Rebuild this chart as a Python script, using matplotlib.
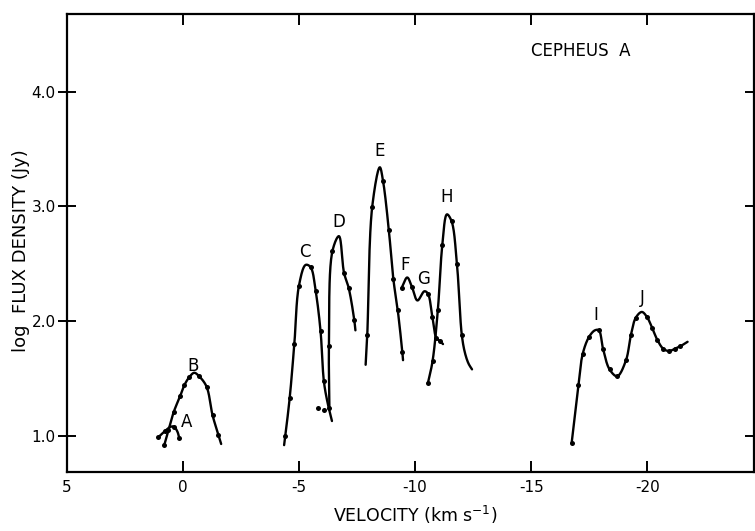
import numpy as np
import matplotlib
matplotlib.use("Agg")
import matplotlib.pyplot as plt

plt.rcParams['font.family'] = ['DejaVu Sans']
plt.rcParams['axes.unicode_minus'] = False
plt.rcParams['mathtext.fontset'] = 'dejavusans'

# ---- data (velocity km/s, log flux density Jy) ----
a_v = [1.05, 0.78, 0.52, 0.38, 0.24, 0.15]
a_s = [0.99, 1.04, 1.08, 1.08, 1.04, 0.98]
a_dot = [1, 1, 0, 1, 0, 1]

b_v = [0.80, 0.62, 0.39, 0.11, -0.06, -0.27, -0.49, -0.70, -1.02, -1.28, -1.53, -1.65]
b_s = [0.92, 1.05, 1.21, 1.35, 1.44, 1.51, 1.55, 1.52, 1.43, 1.18, 1.01, 0.93]
b_dot = [1, 1, 1, 1, 1, 1, 0, 1, 1, 1, 1, 0]

c_v = [-4.36, -4.41, -4.60, -4.80, -5.00, -5.29, -5.50, -5.72, -5.93, -6.07, -6.22, -6.42]
c_s = [0.92, 1.00, 1.33, 1.80, 2.31, 2.49, 2.47, 2.26, 1.91, 1.48, 1.30, 1.13]
c_dot = [0, 1, 1, 1, 1, 0, 1, 1, 1, 1, 0, 0]

iso_v = [-5.84, -6.07]
iso_s = [1.24, 1.23]

d_v = [-6.31, -6.29, -6.44, -6.72, -6.94, -7.14, -7.38, -7.43]
d_s = [1.24, 1.78, 2.61, 2.74, 2.42, 2.29, 2.01, 1.92]
d_dot = [1, 1, 1, 0, 1, 1, 1, 0]

e_v = [-7.87, -7.94, -8.15, -8.48, -8.62, -8.87, -9.06, -9.25, -9.45, -9.48]
e_s = [1.62, 1.88, 2.99, 3.34, 3.22, 2.79, 2.37, 2.10, 1.73, 1.66]
e_dot = [0, 1, 1, 0, 1, 1, 1, 1, 1, 0]

fg_v = [-9.42, -9.66, -9.86, -10.10, -10.40, -10.55, -10.74, -10.92, -11.05, -11.20]
fg_s = [2.29, 2.38, 2.30, 2.18, 2.26, 2.24, 2.04, 1.85, 1.83, 1.80]
fg_dot = [1, 0, 1, 0, 0, 1, 1, 1, 1, 0]

h_v = [-10.55, -10.75, -10.98, -11.17, -11.37, -11.57, -11.80, -12.01, -12.15, -12.30, -12.45]
h_s = [1.46, 1.65, 2.10, 2.66, 2.93, 2.87, 2.50, 1.88, 1.72, 1.63, 1.58]
h_dot = [1, 1, 1, 1, 0, 1, 1, 1, 0, 0, 0]

ij_v = [-16.74, -17.03, -17.21, -17.48, -17.74, -17.91, -18.09, -18.37, -18.70, -19.08,
        -19.29, -19.50, -19.76, -19.97, -20.21, -20.42, -20.68, -20.92, -21.20, -21.41, -21.73]
ij_s = [0.94, 1.44, 1.71, 1.86, 1.92, 1.92, 1.76, 1.58, 1.52, 1.66,
        1.88, 2.03, 2.08, 2.04, 1.94, 1.84, 1.76, 1.74, 1.76, 1.78, 1.82]
ij_dot = [1, 1, 1, 1, 0, 1, 1, 1, 1, 1, 1, 1, 0, 1, 1, 1, 1, 1, 1, 1, 0]

labels = ['A', 'B', 'C', 'D', 'E', 'F', 'G', 'H', 'I', 'J']
label_v = [-0.14, -0.46, -5.27, -6.72, -8.47, -9.57, -10.35, -11.36, -17.78, -19.78]
label_s = [1.12, 1.61, 2.60, 2.86, 3.48, 2.49, 2.37, 3.08, 2.05, 2.20]

xticks = [5, 0, -5, -10, -15, -20]
yticks = [1.0, 2.0, 3.0, 4.0]


def smooth(v, s, n=24):
    """Centripetal Catmull-Rom curve through the given points (drawing only)."""
    P = np.column_stack([np.asarray(v, float) * 23.3, np.asarray(s, float) * 114.7])
    P = np.vstack([2 * P[0] - P[1], P, 2 * P[-1] - P[-2]])
    out = []
    for i in range(1, len(P) - 2):
        p0, p1, p2, p3 = P[i - 1], P[i], P[i + 1], P[i + 2]
        t0 = 0.0
        t1 = t0 + np.linalg.norm(p1 - p0) ** 0.5
        t2 = t1 + np.linalg.norm(p2 - p1) ** 0.5
        t3 = t2 + np.linalg.norm(p3 - p2) ** 0.5
        t = np.linspace(t1, t2, n)[:, None]
        A1 = (t1 - t) / (t1 - t0) * p0 + (t - t0) / (t1 - t0) * p1
        A2 = (t2 - t) / (t2 - t1) * p1 + (t - t1) / (t2 - t1) * p2
        A3 = (t3 - t) / (t3 - t2) * p2 + (t - t2) / (t3 - t2) * p3
        B1 = (t2 - t) / (t2 - t0) * A1 + (t - t0) / (t2 - t0) * A2
        B2 = (t3 - t) / (t3 - t1) * A2 + (t - t1) / (t3 - t1) * A3
        C = (t2 - t) / (t2 - t1) * B1 + (t - t1) / (t2 - t1) * B2
        out.append(C[:-1] if i < len(P) - 3 else C)
    C = np.vstack(out)
    return C[:, 0] / 23.3, C[:, 1] / 114.7


fig = plt.figure(figsize=(7.55, 5.31), dpi=100)
ax = fig.add_axes([66.7 / 755, 59 / 531, (754 - 66.7) / 755, (472 - 14) / 531])

series = [(a_v, a_s, a_dot), (b_v, b_s, b_dot), (c_v, c_s, c_dot), (d_v, d_s, d_dot),
          (e_v, e_s, e_dot), (fg_v, fg_s, fg_dot), (h_v, h_s, h_dot), (ij_v, ij_s, ij_dot)]
for v, s, dm in series:
    xs, ys = smooth(v, s)
    ax.plot(xs, ys, color='black', lw=1.7, solid_capstyle='round')
    dv = [x for x, m in zip(v, dm) if m]
    ds = [y for y, m in zip(s, dm) if m]
    ax.plot(dv, ds, 'o', color='black', ms=3.6, mew=0)
ax.plot(iso_v, iso_s, 'o', color='black', ms=3.6, mew=0)

for t, x, y in zip(labels, label_v, label_s):
    ax.text(x, y, t, ha='center', va='center', fontsize=12)
ax.text(-17.13, 4.35, 'CEPHEUS  A', ha='center', va='center', fontsize=12)

ax.set_xlim(4.87, -24.59)
ax.set_ylim(0.686, 4.675)
ax.set_xticks(xticks)
ax.set_xticklabels([str(t) for t in xticks])
ax.set_yticks(yticks)
ax.set_yticklabels(['%.1f' % t for t in yticks])
ax.tick_params(axis='x', direction='in', length=8, width=1.4, top=True, bottom=True,
               labelsize=11, pad=5.5)
ax.tick_params(axis='y', direction='inout', length=13, width=1.4, left=True, right=True,
               labelsize=11, pad=1.5)
for sp in ax.spines.values():
    sp.set_linewidth(1.6)

fig.text(20.7 / 755, 1 - 251 / 531, 'log  FLUX DENSITY (Jy)', rotation=90,
         ha='center', va='center', fontsize=13)
fig.text(415 / 755, 1 - 515 / 531, r'VELOCITY (km s$^{-1}$)', ha='center', va='center',
         fontsize=12.5)

fig.savefig('out.png', dpi=100)
